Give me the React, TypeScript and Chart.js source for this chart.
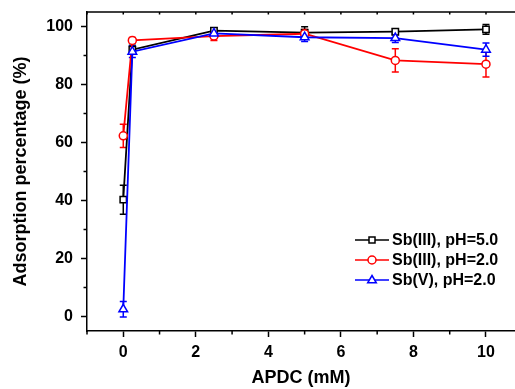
import React, { useEffect, useRef } from "react";
import { Chart, registerables } from "chart.js";

Chart.register(...registerables);

const concentrations = [0, 0.25, 2.5, 5, 7.5, 10];
const seriesLabels = ["Sb(III), pH=5.0", "Sb(III), pH=2.0", "Sb(V), pH=2.0"];
const seriesColors = ["#000000", "#ff0000", "#0000ff"];
const seriesMarkers = ["rect", "circle", "triangle"];
const sb3ph5 = [40.3, 92.0, 98.6, 97.9, 98.2, 99.0];
const sb3ph5Err = [5.0, 1.5, 1.0, 2.0, 1.0, 1.7];
const sb3ph2 = [62.3, 95.2, 96.7, 97.5, 88.3, 87.0];
const sb3ph2Err = [4.0, 1.0, 1.5, 1.5, 4.0, 4.4];
const sb5ph2 = [2.5, 91.3, 97.6, 96.3, 96.0, 92.0];
const sb5ph2Err = [2.7, 2.0, 1.0, 1.5, 1.5, 2.3];
const xTicks = [0, 2, 4, 6, 8, 10];
const xMinorTicks = [-1, 1, 3, 5, 7, 9];
const xTopTicks = [-1, 0, 1, 2, 3, 4, 5, 6, 7, 8, 9, 10];
const yTicks = [0, 20, 40, 60, 80, 100];
const yMinorTicks = [10, 30, 50, 70, 90];

const FONT = "'Liberation Sans', Arial, Helvetica, sans-serif";

const allValues = [sb3ph5, sb3ph2, sb5ph2];
const allErrors = [sb3ph5Err, sb3ph2Err, sb5ph2Err];

function drawMarker(ctx: CanvasRenderingContext2D, kind: string, x: number, y: number, color: string) {
  ctx.save();
  ctx.fillStyle = "#ffffff";
  ctx.strokeStyle = color;
  ctx.lineWidth = 1.5;
  ctx.beginPath();
  if (kind === "rect") {
    ctx.rect(x - 3, y - 3, 6, 6);
  } else if (kind === "circle") {
    ctx.arc(x, y, 4, 0, Math.PI * 2);
  } else {
    ctx.moveTo(x, y - 4.5);
    ctx.lineTo(x + 4.3, y + 2.8);
    ctx.lineTo(x - 4.3, y + 2.8);
    ctx.closePath();
  }
  ctx.fill();
  ctx.stroke();
  ctx.restore();
}

const errorBarPlugin = {
  id: "errorBars",
  beforeDatasetsDraw(chart: any) {
    const ctx = chart.ctx;
    const xs = chart.scales.x;
    const ys = chart.scales.y;
    chart.data.datasets.forEach((ds: any, di: number) => {
      const errs = allErrors[di];
      ctx.save();
      ctx.strokeStyle = seriesColors[di];
      ctx.lineWidth = 1.5;
      ds.data.forEach((p: any, i: number) => {
        const px = xs.getPixelForValue(p.x);
        const yt = ys.getPixelForValue(p.y + errs[i]);
        const yb = ys.getPixelForValue(p.y - errs[i]);
        ctx.beginPath();
        ctx.moveTo(px, yt);
        ctx.lineTo(px, yb);
        ctx.moveTo(px - 3.5, yt);
        ctx.lineTo(px + 3.5, yt);
        ctx.moveTo(px - 3.5, yb);
        ctx.lineTo(px + 3.5, yb);
        ctx.stroke();
      });
      ctx.restore();
    });
  },
};

const framePlugin = {
  id: "frame",
  afterDraw(chart: any) {
    const ctx = chart.ctx;
    const { left, right, top, bottom } = chart.chartArea;
    const xs = chart.scales.x;
    const ys = chart.scales.y;
    ctx.save();
    ctx.strokeStyle = "#000";
    ctx.lineWidth = 1.5;
    ctx.beginPath();
    ctx.moveTo(left, top);
    ctx.lineTo(right, top);
    xTopTicks.forEach((v) => {
      const px = xs.getPixelForValue(v);
      ctx.moveTo(px, top);
      ctx.lineTo(px, top + 2.5);
    });
    xMinorTicks.forEach((v) => {
      const px = xs.getPixelForValue(v);
      ctx.moveTo(px, bottom);
      ctx.lineTo(px, bottom + 3.5);
    });
    yMinorTicks.forEach((v) => {
      const py = ys.getPixelForValue(v);
      ctx.moveTo(left, py);
      ctx.lineTo(left - 3.5, py);
    });
    ctx.stroke();

    // legend
    const rows = [240, 260, 280];
    ctx.font = "bold 16px " + FONT;
    ctx.textBaseline = "middle";
    ctx.textAlign = "left";
    seriesLabels.forEach((lab, i) => {
      const y = rows[i];
      ctx.strokeStyle = seriesColors[i];
      ctx.lineWidth = 1.5;
      ctx.beginPath();
      ctx.moveTo(355, y);
      ctx.lineTo(389, y);
      ctx.stroke();
      drawMarker(ctx, seriesMarkers[i], 372, y, seriesColors[i]);
      ctx.fillStyle = "#000";
      ctx.fillText(lab, 392, y + 1);
    });
    ctx.restore();
  },
};

export default function App() {
  const ref = useRef<HTMLCanvasElement | null>(null);
  useEffect(() => {
    document.body.style.margin = "0";
    if (!ref.current) return;
    Chart.defaults.font.family = FONT;
    const datasets = allValues.map((vals, di) => ({
      label: seriesLabels[di],
      data: concentrations.map((x, i) => ({ x, y: vals[i] })),
      borderColor: seriesColors[di],
      backgroundColor: "#ffffff",
      borderWidth: 1.8,
      pointStyle: seriesMarkers[di] as any,
      pointRadius: di === 0 ? 4.5 : di === 1 ? 4 : 5,
      pointBackgroundColor: "#ffffff",
      pointBorderColor: seriesColors[di],
      pointBorderWidth: 1.5,
      tension: 0,
      order: 2 - di,
    }));
    const chart = new Chart(ref.current, {
      type: "line",
      data: { datasets },
      plugins: [errorBarPlugin, framePlugin],
      options: {
        animation: false,
        responsive: false,
        layout: { autoPadding: false, padding: { top: 12, right: 0, left: 0, bottom: 0 } },
        plugins: { legend: { display: false }, tooltip: { enabled: false } },
        scales: {
          x: {
            type: "linear",
            min: -1,
            max: 10.8,
            afterBuildTicks: (s: any) => {
              s.ticks = xTicks.map((v) => ({ value: v }));
            },
            afterFit: (s: any) => {
              s.height = 58;
              s.paddingLeft = 0;
              s.paddingRight = 0;
              s.paddingTop = 0;
              s.paddingBottom = 0;
            },
            ticks: {
              color: "#000",
              font: { size: 16, weight: "bold", family: FONT },
              padding: 6,
              maxRotation: 0,
            },
            grid: {
              display: true,
              drawOnChartArea: false,
              drawTicks: true,
              tickLength: 6,
              tickColor: "#000",
              tickWidth: 1.5,
            },
            border: { display: true, color: "#000", width: 1.5 },
            title: {
              display: true,
              text: "APDC (mM)",
              color: "#000",
              font: { size: 18, weight: "bold", family: FONT },
              padding: { top: 0, bottom: 0 },
            },
          },
          y: {
            type: "linear",
            min: -5,
            max: 105,
            afterBuildTicks: (s: any) => {
              s.ticks = yTicks.map((v) => ({ value: v }));
            },
            afterFit: (s: any) => {
              s.width = 87;
              s.paddingLeft = 0;
              s.paddingRight = 0;
              s.paddingTop = 0;
              s.paddingBottom = 0;
            },
            ticks: {
              color: "#000",
              font: { size: 16, weight: "bold", family: FONT },
              padding: 8,
            },
            grid: {
              display: true,
              drawOnChartArea: false,
              drawTicks: true,
              tickLength: 6,
              tickColor: "#000",
              tickWidth: 1.5,
            },
            border: { display: true, color: "#000", width: 1.5 },
            title: {
              display: true,
              text: "Adsorption percentage (%)",
              color: "#000",
              font: { size: 18, weight: "bold", family: FONT },
              padding: { top: 10, bottom: 0 },
            },
          },
        },
      },
    });
    return () => chart.destroy();
  }, []);
  return (
    <div style={{ width: 515, height: 389 }}>
      <canvas ref={ref} width={515} height={389} style={{ display: "block" }} />
    </div>
  );
}
